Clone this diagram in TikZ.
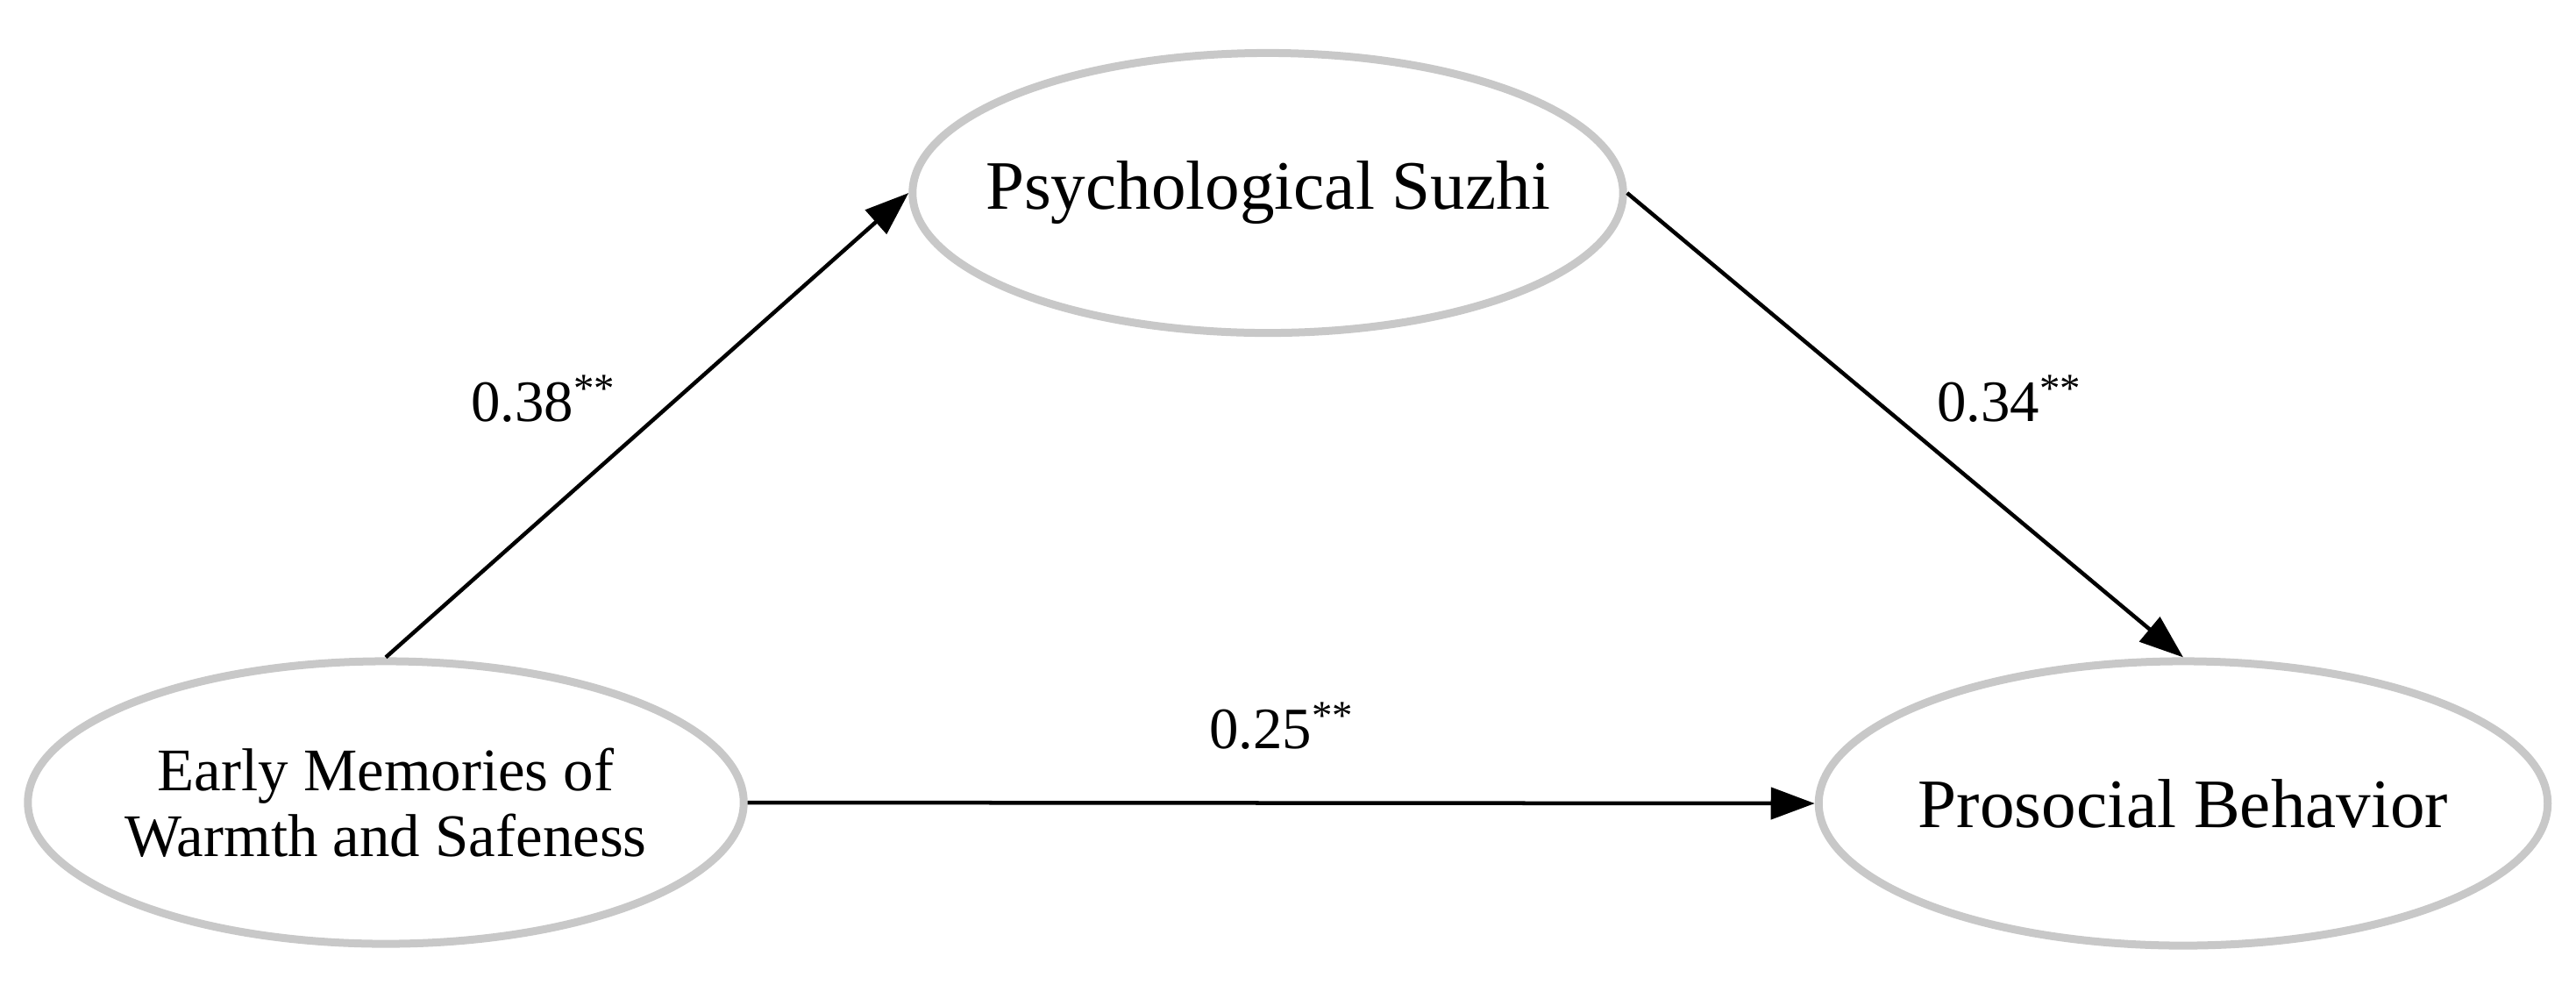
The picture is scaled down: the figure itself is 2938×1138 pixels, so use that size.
\documentclass[tikz,border=0pt]{standalone}
\usepackage{fontspec}
\setmainfont{Liberation Serif}
\usetikzlibrary{shapes.geometric,arrows.meta}
\definecolor{ringgrey}{HTML}{C8C8C8}
\tikzset{
  construct/.style={ellipse, draw=ringgrey, line width=0.09cm, inner sep=0pt, fill=white},
  bigtext/.style={font=\fontsize{22.5}{27}\selectfont},
  smalltext/.style={font=\fontsize{19.6}{21.3}\selectfont, align=center},
  path/.style={line width=0.045cm, -{Triangle[length=0.5cm, width=0.36cm]}},
  coef/.style={font=\fontsize{19}{22}\selectfont, inner sep=0pt}
}
\begin{document}
\begin{tikzpicture}[x=0.01cm, y=-0.01cm]
\useasboundingbox (0,0) rectangle (2938,1138);
\node[construct, minimum width=8.1cm, minimum height=3.19cm] (psych) at (1446,220) {};
\node[construct, minimum width=8.16cm, minimum height=3.22cm] (early) at (440,915) {};
\node[construct, minimum width=8.31cm, minimum height=3.24cm] (pros) at (2490,916) {};
\node[bigtext] (psychtext) at (psych.center) {Psychological Suzhi};
\node[smalltext] (earlytext) at (early.center) {Early Memories of\\Warmth and Safeness};
\node[bigtext] (prostext) at (pros.center) {Prosocial Behavior};
\draw[path] (early.north) -- (psych.west);
\draw[path] (psych.east) -- (pros.north);
\draw[path] (early.east) -- (pros.west);
\node[coef] (c1) at (620,455) {0.38\textsuperscript{**}};
\node[coef] (c2) at (2292,455) {0.34\textsuperscript{**}};
\node[coef] (c3) at (1462,828) {0.25\textsuperscript{**}};
\end{tikzpicture}
\end{document}
